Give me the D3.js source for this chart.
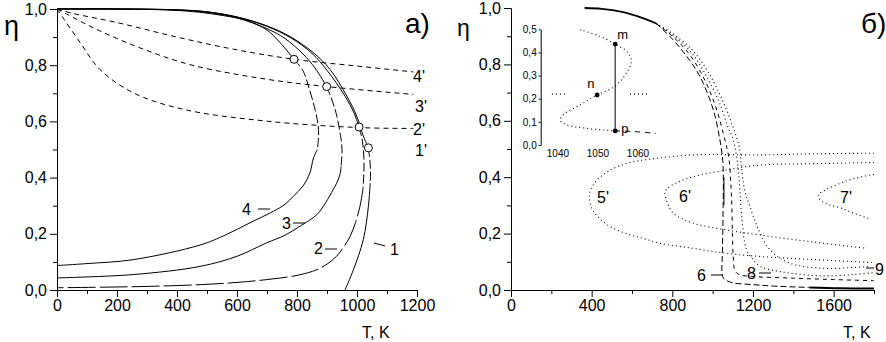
<!DOCTYPE html>
<html>
<head>
<meta charset="utf-8">
<script src="https://cdn.jsdelivr.net/npm/d3@7/dist/d3.min.js"></script>
<style>
  body { margin: 0; background: #fff; }
  svg { display: block; font-family: "Liberation Sans", Arial, sans-serif; }
</style>
</head>
<body>
<svg id="chart" width="886" height="342"></svg>
<script>
// ---------- panel a) data ----------
const aXMajor = [0, 200, 400, 600, 800, 1000, 1200];
const aXMinor = [100, 300, 500, 700, 900, 1100];
const etaMajor = [0, 0.2, 0.4, 0.6, 0.8, 1.0];
const etaMinor = [0.1, 0.3, 0.5, 0.7, 0.9];

// curve 1
const c1UpT = [0, 200, 400, 500, 600, 700, 780, 854, 910, 966, 999, 1021, 1038];
const c1UpE = [1, 1, 0.997, 0.99, 0.972, 0.94, 0.9, 0.845, 0.785, 0.69, 0.619, 0.548, 0.506];
const c1MidT = [1038, 1043, 1045, 1044];
const c1MidE = [0.506, 0.46, 0.42, 0.38];
const c1LowT = [1044, 1038, 1021, 988, 960];
const c1LowE = [0.38, 0.298, 0.179, 0.072, 0];
// curve 2
const c2UpT = [0, 200, 400, 500, 600, 700, 780, 850, 900, 960, 990, 1007];
const c2UpE = [1, 1, 0.997, 0.99, 0.971, 0.938, 0.897, 0.842, 0.782, 0.69, 0.63, 0.58];
const c2MidT = [1007, 1018, 1023, 1023, 1020];
const c2MidE = [0.58, 0.53, 0.47, 0.42, 0.36];
const c2LowT = [1020, 1010, 995, 977, 955, 932, 900, 866, 800, 699, 600, 477, 310, 150, 0];
const c2LowE = [0.36, 0.298, 0.24, 0.191, 0.152, 0.12, 0.092, 0.072, 0.052, 0.037, 0.027, 0.019, 0.013, 0.01, 0.008];
// curve 3
const c3UpT = [0, 200, 400, 500, 600, 700, 760, 820, 860, 899];
const c3UpE = [1, 1, 0.996, 0.988, 0.968, 0.93, 0.895, 0.84, 0.79, 0.724];
const c3MidT = [899, 927, 945, 950, 947];
const c3MidE = [0.724, 0.643, 0.55, 0.5, 0.44];
const c3LowT = [947, 943, 932, 921, 895, 866, 810, 760, 699, 600, 477, 254, 0];
const c3LowE = [0.44, 0.41, 0.38, 0.358, 0.31, 0.268, 0.227, 0.195, 0.168, 0.12, 0.084, 0.055, 0.043];
// curve 4
const c4UpT = [0, 200, 400, 500, 600, 632, 700, 743, 790];
const c4UpE = [1, 1, 0.995, 0.985, 0.968, 0.96, 0.925, 0.881, 0.821];
const c4MidT = [790, 820, 838, 860, 870, 872, 868];
const c4MidE = [0.821, 0.78, 0.726, 0.643, 0.59, 0.55, 0.5];
const c4LowT = [868, 855, 843, 820, 788, 760, 721, 643, 560, 477, 254, 100, 0];
const c4LowE = [0.5, 0.47, 0.417, 0.37, 0.334, 0.305, 0.28, 0.239, 0.195, 0.16, 0.108, 0.094, 0.087];

// primed curves
const p4T = [0, 50, 199, 400, 588, 790, 1000, 1188];
const p4E = [1, 0.985, 0.952, 0.9, 0.857, 0.821, 0.797, 0.776];
const p3T = [0, 32, 143, 288, 450, 699, 899, 1188];
const p3E = [1, 0.982, 0.922, 0.857, 0.8, 0.75, 0.724, 0.696];
const p2T = [0, 16, 77, 143, 254, 421, 699, 1007, 1188];
const p2E = [1, 0.975, 0.881, 0.785, 0.702, 0.643, 0.601, 0.578, 0.575];

// circles (intersections)
const circT = [790, 899, 1007, 1038];
const circE = [0.821, 0.724, 0.58, 0.506];

// ---------- panel б) data ----------
const bXMajor = [0, 400, 800, 1200, 1600];
const bXMinor = [200, 600, 1000, 1400, 1800];

const bundleT = [365, 450, 550, 650, 720];
const bundleE = [1.0, 0.997, 0.986, 0.965, 0.945];

const c6T = [720, 800, 870, 937, 1003, 1036, 1050, 1053, 1052, 1050, 1047, 1046, 1055, 1080, 1102, 1200, 1300, 1480];
const c6E = [0.945, 0.89, 0.83, 0.757, 0.639, 0.532, 0.46, 0.4, 0.3, 0.2, 0.1, 0.06, 0.04, 0.03, 0.025, 0.019, 0.014, 0.009];
const c6TailT = [1480, 1630, 1800];
const c6TailE = [0.009, 0.006, 0.005];
const jumpT = [1056, 1056];
const jumpE = [0.40, 0.30];

const cBT = [720, 800, 880, 950, 1010, 1061, 1080, 1090, 1095, 1098, 1102, 1110, 1130, 1200, 1400, 1600, 1800];
const cBE = [0.945, 0.9, 0.84, 0.76, 0.66, 0.532, 0.47, 0.38, 0.3, 0.2, 0.12, 0.07, 0.055, 0.048, 0.042, 0.037, 0.033];

const c8T = [720, 800, 890, 960, 1030, 1075, 1102, 1125, 1135, 1144, 1168, 1201, 1234, 1300, 1383, 1548, 1700, 1800];
const c8E = [0.945, 0.905, 0.845, 0.77, 0.67, 0.58, 0.532, 0.44, 0.355, 0.26, 0.143, 0.107, 0.084, 0.07, 0.06, 0.05, 0.055, 0.062];

const c9T = [720, 800, 900, 980, 1050, 1100, 1134, 1142, 1160, 1185, 1218, 1284, 1383, 1548, 1700, 1780];
const c9E = [0.945, 0.91, 0.85, 0.77, 0.67, 0.58, 0.5, 0.44, 0.35, 0.296, 0.23, 0.143, 0.095, 0.077, 0.08, 0.084];

const l5T = [1800, 1500, 1234, 904, 700, 574, 480, 420, 395, 388, 400, 430, 491, 580, 655, 739, 900, 1069, 1234, 1500, 1800];
const l5E = [0.485, 0.483, 0.479, 0.479, 0.465, 0.449, 0.42, 0.385, 0.355, 0.33, 0.29, 0.26, 0.225, 0.198, 0.183, 0.166, 0.148, 0.13, 0.119, 0.108, 0.097];
const l6T = [1800, 1500, 1234, 1069, 904, 820, 775, 763, 775, 805, 904, 1069, 1234, 1500, 1763];
const l6E = [0.452, 0.448, 0.443, 0.426, 0.402, 0.38, 0.36, 0.345, 0.31, 0.272, 0.237, 0.213, 0.195, 0.17, 0.148];
const l7T = [1800, 1700, 1631, 1560, 1524, 1540, 1580, 1631, 1700, 1772];
const l7E = [0.41, 0.395, 0.378, 0.355, 0.337, 0.315, 0.302, 0.292, 0.272, 0.254];

// ---------- inset data ----------
const insYTicks = [0, 0.1, 0.2, 0.3, 0.4, 0.5];
const insXTicks = [1040, 1050, 1060];
const sT = [1045.5, 1050.5, 1054.3, 1057.2, 1058.3, 1058, 1054.7, 1049.8, 1045.5, 1041.3, 1040.6, 1042.2, 1047.2, 1054.3];
const sE = [0.498, 0.47, 0.436, 0.404, 0.37, 0.339, 0.26, 0.216, 0.173, 0.13, 0.105, 0.087, 0.072, 0.061];
const sTailT = [1054.3, 1059, 1064.5];
const sTailE = [0.061, 0.058, 0.05];
const stubLT = [1038.5, 1042];
const stubRT = [1058, 1063];
const stubE = 0.22;
const ptNames = ["m", "n", "p"];
const ptT = [1054.3, 1049.8, 1054.3];
const ptE = [0.436, 0.216, 0.061];

// ---------- scales ----------
const xA = d3.scaleLinear().domain([0, 1200]).range([57, 417]);
const yA = d3.scaleLinear().domain([0, 1]).range([290, 9]);
const xB = d3.scaleLinear().domain([0, 1800]).range([511, 874]);
const yB = d3.scaleLinear().domain([0, 1]).range([290, 8]);
const xI = d3.scaleLinear().domain([1035.7, 1065]).range([540.7, 658]);
const yI = d3.scaleLinear().domain([0, 0.5]).range([145, 29.3]);

const svg = d3.select("#chart");
svg.append("rect").attr("width", 886).attr("height", 342).attr("fill", "#fff");

const comma = (d) => d.toFixed(1).replace(".", ",");
const smooth = d3.line().curve(d3.curveCatmullRom.alpha(0.5));

function curve(x, y, T, E, dash, w) {
  svg
    .append("path")
    .attr("d", smooth(T.map((t, i) => [x(t), y(E[i])])))
    .attr("fill", "none")
    .attr("stroke", "#000")
    .attr("stroke-width", w || 1)
    .attr("stroke-dasharray", dash || null);
}

function label(x, y, txt, size) {
  svg
    .append("text")
    .attr("x", x)
    .attr("y", y)
    .attr("font-size", size)
    .attr("fill", "#000")
    .text(txt);
}

function leader(x1, y1, x2, y2) {
  svg
    .append("line")
    .attr("x1", x1).attr("y1", y1).attr("x2", x2).attr("y2", y2)
    .attr("stroke", "#000").attr("stroke-width", 1);
}

function styleAxis(g, size) {
  g.attr("font-family", null).attr("font-size", size);
  g.selectAll("path, line").attr("stroke", "#000");
  g.selectAll("text").attr("fill", "#000");
}

function axes(x, y, xMajor, xMinor) {
  const y0 = y(0);
  const x0 = x.range()[0];
  svg.append("g").attr("transform", `translate(0,${y0})`)
    .call(d3.axisBottom(x).tickValues(xMinor).tickSize(4).tickSizeOuter(0).tickFormat(""))
    .call(styleAxis, 16);
  svg.append("g").attr("transform", `translate(0,${y0})`)
    .call(d3.axisBottom(x).tickValues(xMajor).tickSize(7).tickSizeOuter(0).tickPadding(3).tickFormat(d3.format("d")))
    .call(styleAxis, 16);
  svg.append("g").attr("transform", `translate(${x0},0)`)
    .call(d3.axisLeft(y).tickValues(etaMinor).tickSize(4).tickSizeOuter(0).tickFormat(""))
    .call(styleAxis, 16);
  svg.append("g").attr("transform", `translate(${x0},0)`)
    .call(d3.axisLeft(y).tickValues(etaMajor).tickSize(7).tickSizeOuter(0).tickPadding(3).tickFormat(comma))
    .call(styleAxis, 16);
}

// ---------- panel a ----------
axes(xA, yA, aXMajor, aXMinor);

curve(xA, yA, p4T, p4E, "5,4");
curve(xA, yA, p3T, p3E, "5,4");
curve(xA, yA, p2T, p2E, "5,4");

[[c1UpT, c1UpE, c1MidT, c1MidE, c1LowT, c1LowE],
 [c2UpT, c2UpE, c2MidT, c2MidE, c2LowT, c2LowE],
 [c3UpT, c3UpE, c3MidT, c3MidE, c3LowT, c3LowE],
 [c4UpT, c4UpE, c4MidT, c4MidE, c4LowT, c4LowE]].forEach((c, i) => {
  curve(xA, yA, c[0], c[1], null, 1);
  curve(xA, yA, c[2], c[3], "9,3", 1);
  curve(xA, yA, c[4], c[5], i === 1 ? "28,4" : null, 1);
});

svg.selectAll(".circ")
  .data(circT)
  .enter()
  .append("circle")
  .attr("cx", (d) => xA(d))
  .attr("cy", (d, i) => yA(circE[i]))
  .attr("r", 4)
  .attr("fill", "#fff")
  .attr("stroke", "#000")
  .attr("stroke-width", 1);

label(413, 82, "4'", 16);
label(415, 112, "3'", 16);
label(413, 135, "2'", 16);
label(415, 156, "1'", 16);

label(242, 215, "4", 16);
leader(258, 209, 270, 209);
label(282, 229, "3", 16);
leader(293, 223, 305, 223);
label(314, 254, "2", 16);
leader(325, 249, 337, 249);
label(390, 255, "1", 16);
leader(374, 243, 385, 246);

label(4, 35, "η", 27);
label(405, 33, "a)", 28);
label(362, 338, "T, K", 16);

// ---------- panel б ----------
axes(xB, yB, bXMajor, bXMinor);

curve(xB, yB, l5T, l5E, "1,3", 1.1);
curve(xB, yB, l6T, l6E, "1,3", 1.1);
curve(xB, yB, l7T, l7E, "1,3", 1.1);

curve(xB, yB, c9T, c9E, "1,3", 1.1);
curve(xB, yB, c8T, c8E, "1,3", 1.1);
curve(xB, yB, cBT, cBE, "4,4", 1);
curve(xB, yB, c6T, c6E, "6,3", 1);
curve(xB, yB, c6TailT, c6TailE, null, 2);
curve(xB, yB, jumpT, jumpE, null, 1);
curve(xB, yB, bundleT, bundleE, null, 1.8);

label(597, 203, "5'", 16);
label(679, 202, "6'", 16);
label(840, 203, "7'", 16);
label(697, 281, "6", 16);
leader(711, 275, 722, 275);
label(747, 279, "8", 16);
leader(759, 273, 771, 273);
label(875, 275, "9", 16);
leader(866, 268, 874, 268);

label(457, 36, "η", 23);
label(861, 33, "б)", 28);
label(843, 338, "T, K", 16);

// ---------- inset ----------
const insY = svg.append("g").attr("transform", `translate(${xI(1035.7)},0)`)
  .call(d3.axisLeft(yI).tickValues(insYTicks).tickSize(2).tickSizeOuter(0).tickPadding(2).tickFormat(comma))
  .call(styleAxis, 10);

insXTicks.forEach((t) => {
  svg.append("text")
    .attr("x", xI(t))
    .attr("y", 156.5)
    .attr("text-anchor", "middle")
    .attr("font-size", 10)
    .text(t);
});

curve(xI, yI, sT, sE, "1,3", 1.1);
curve(xI, yI, sTailT, sTailE, "5,5", 1);
curve(xI, yI, stubLT, [stubE, stubE], "1,3", 1.1);
curve(xI, yI, stubRT, [stubE, stubE], "1,3", 1.1);
curve(xI, yI, [ptT[0], ptT[2]], [ptE[0], ptE[2]], null, 1);

svg.selectAll(".ipt")
  .data(ptT)
  .enter()
  .append("circle")
  .attr("cx", (d) => xI(d))
  .attr("cy", (d, i) => yI(ptE[i]))
  .attr("r", 2.4)
  .attr("fill", "#000");

label(xI(ptT[0]) + 2, 39, ptNames[0], 13);
label(xI(ptT[1]) - 10, 88, ptNames[1], 13);
label(xI(ptT[2]) + 6, 133, ptNames[2], 13);
</script>
</body>
</html>
